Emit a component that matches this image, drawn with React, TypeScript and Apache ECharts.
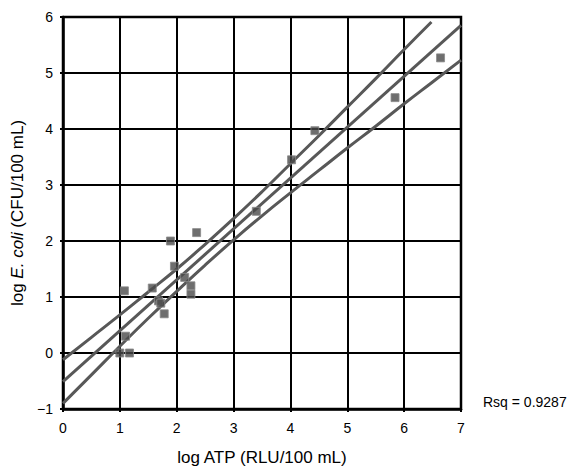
import React, { useEffect, useRef } from "react";
import * as echarts from "echarts";

const pointsX = [1.0, 1.17, 1.1, 1.08, 1.57, 1.68, 1.72, 1.78, 1.89, 1.96, 2.14, 2.25, 2.25, 2.35, 3.4, 4.02, 4.43, 5.84, 6.64];
const pointsY = [0.0, 0.0, 0.3, 1.11, 1.16, 0.93, 0.89, 0.7, 2.0, 1.55, 1.35, 1.2, 1.05, 2.15, 2.53, 3.45, 3.97, 4.56, 5.27];

const fitX = [0, 7];
const fitY = [-0.51, 5.85];

const upperX = [0, 0.5, 1, 1.5, 2, 2.5, 3, 3.5, 4, 4.5, 5, 5.5, 6, 6.48];
const upperY = [-0.12, 0.28, 0.68, 1.09, 1.5, 1.94, 2.4, 2.88, 3.38, 3.88, 4.39, 4.9, 5.42, 5.91];

const lowerX = [0, 0.5, 1, 1.5, 2, 2.5, 3, 3.5, 4, 4.5, 5, 5.5, 6, 6.5, 7];
const lowerY = [-0.9, -0.39, 0.12, 0.62, 1.1, 1.57, 2.02, 2.45, 2.86, 3.26, 3.66, 4.05, 4.45, 4.84, 5.23];

const rsqLabel = "Rsq = 0.9287";

const FONT = "'Liberation Sans', Arial, Helvetica, sans-serif";

const zip = (xs: number[], ys: number[]) => xs.map((x, i) => [x, ys[i]]);

export default function App() {
  const ref = useRef<HTMLDivElement>(null);
  useEffect(() => {
    if (!ref.current) return;
    const chart = echarts.init(ref.current, undefined, { renderer: "svg" });
    const lineStyle = { color: "#585858", width: 3 };
    chart.setOption({
      animation: false,
      backgroundColor: "#ffffff",
      grid: { left: 63, right: 106, top: 17, bottom: 61, show: true, borderColor: "#000", borderWidth: 2.5 },
      xAxis: {
        type: "value",
        min: 0,
        max: 7,
        interval: 1,
        name: "log ATP (RLU/100 mL)",
        nameLocation: "middle",
        nameGap: 40,
        nameTextStyle: { fontFamily: FONT, fontSize: 17, color: "#000" },
        axisLine: { show: true, onZero: false, lineStyle: { color: "#000", width: 2.5 } },
        axisTick: { show: true, length: 3, lineStyle: { color: "#000", width: 2 } },
        axisLabel: { fontFamily: FONT, fontSize: 14, color: "#000", margin: 12 },
        splitLine: { show: true, lineStyle: { color: "#000", width: 2 } },
      },
      yAxis: {
        type: "value",
        min: -1,
        max: 6,
        interval: 1,
        name: "{n|log }{i|E. coli}{n| (CFU/100 mL)}",
        nameLocation: "middle",
        nameGap: 37,
        nameRotate: 90,
        nameTextStyle: {
          fontFamily: FONT,
          fontSize: 17,
          color: "#000",
          rich: {
            n: { fontFamily: FONT, fontSize: 17, color: "#000" },
            i: { fontFamily: FONT, fontSize: 17, color: "#000", fontStyle: "italic" },
          },
        },
        axisLine: { show: true, onZero: false, lineStyle: { color: "#000", width: 2.5 } },
        axisTick: { show: true, length: 3, lineStyle: { color: "#000", width: 2 } },
        axisLabel: {
          fontFamily: FONT,
          fontSize: 14,
          color: "#000",
          margin: 10,
          formatter: (v: number) => (v < 0 ? "\u2212" + Math.abs(v) : String(v)),
        },
        splitLine: { show: true, lineStyle: { color: "#000", width: 2 } },
      },
      series: [
        {
          type: "line",
          data: zip(upperX, upperY),
          smooth: true,
          showSymbol: false,
          symbol: "none",
          lineStyle,
          z: 3,
        },
        {
          type: "line",
          data: zip(fitX, fitY),
          showSymbol: false,
          symbol: "none",
          lineStyle,
          z: 3,
        },
        {
          type: "line",
          data: zip(lowerX, lowerY),
          smooth: true,
          showSymbol: false,
          symbol: "none",
          lineStyle,
          z: 3,
        },
        {
          type: "scatter",
          data: zip(pointsX, pointsY),
          symbol: "rect",
          symbolSize: 8,
          itemStyle: { color: "#4a4a4a", borderColor: "#8a8a8a", borderWidth: 1 },
          z: 4,
        },
      ],
      graphic: [
        {
          type: "text",
          left: 483,
          top: 395,
          style: { text: rsqLabel, fontFamily: FONT, fontSize: 14, fill: "#000" },
        },
      ],
    });
    return () => chart.dispose();
  }, []);
  return <div ref={ref} style={{ width: 567, height: 471, position: "absolute", left: 0, top: 0 }} />;
}
